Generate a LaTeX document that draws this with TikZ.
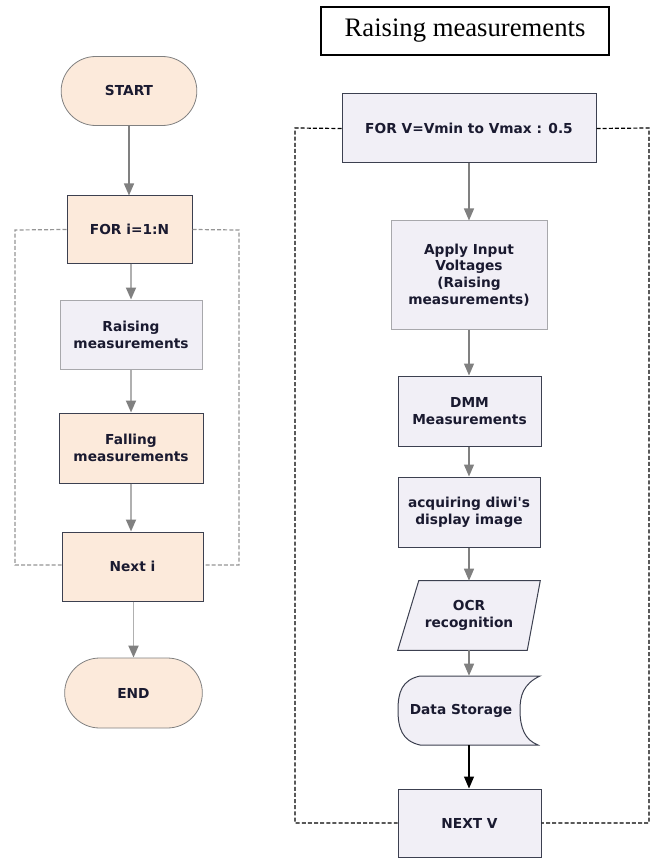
\documentclass[tikz,border=0pt]{standalone}
\usepackage{fontspec}
\newfontfamily\boxfont{DejaVu Sans}
\newfontfamily\titlefont{Liberation Serif}
\usetikzlibrary{arrows.meta,shapes.misc}

\definecolor{peach}{HTML}{FCEADB}
\definecolor{lavender}{HTML}{F1EFF6}
\definecolor{darkedge}{HTML}{3C4050}
\definecolor{lightedge}{HTML}{A8A8AC}
\definecolor{inkcol}{HTML}{1A1A30}
\definecolor{shaftgray}{HTML}{B0B0B0}
\definecolor{headgray}{HTML}{808080}
\definecolor{loopgray}{HTML}{959595}

\tikzset{
  label text/.style={font=\boxfont\bfseries\fontsize{10.3}{12.6}\selectfont,
    text=inkcol, align=center, inner sep=2pt},
  terminal/.style={label text, rounded rectangle, draw=headgray, line width=0.6pt, fill=peach},
  peachbox/.style={label text, rectangle, draw=darkedge, line width=0.75pt, fill=peach},
  lavbox/.style={label text, rectangle, draw=darkedge, line width=0.75pt, fill=lavender},
  lavboxlight/.style={label text, rectangle, draw=lightedge, line width=0.75pt, fill=lavender},
  ghost/.style={label text, rectangle, draw=none},
  flowarrow/.style={draw=shaftgray, line width=1.4pt,
    -{Triangle[width=7.5pt,length=9pt,color=headgray]}},
  thinarrow/.style={draw=headgray, line width=0.9pt,
    -{Triangle[width=7.5pt,length=9pt,color=headgray]}},
  blackarrow/.style={draw=black, line width=0.8pt,
    -{Triangle[width=7.5pt,length=9pt,color=black]}},
  grayloop/.style={draw=loopgray, line width=0.9pt, dash pattern=on 3pt off 1.6pt},
  blackloop/.style={draw=black, line width=0.9pt, dash pattern=on 3pt off 1.6pt},
}

\begin{document}
\begin{tikzpicture}[x=0.75pt, y=-0.75pt]
\useasboundingbox (0,0) rectangle (656,859);

% ---------- main loop over i ----------
\node[terminal, minimum width=105.75pt, minimum height=51.75pt] (start) at (129,91) {START};
\node[peachbox, minimum width=93.75pt, minimum height=50.25pt] (fori) at (129.5,229.5) {FOR i=1:N};
\node[lavboxlight, minimum width=106.5pt, minimum height=51.75pt] (rais) at (131,334.5) {Raising\\measurements};
\node[peachbox, minimum width=108pt, minimum height=52.5pt] (fall) at (131,448) {Falling\\measurements};
\node[peachbox, minimum width=105.75pt, minimum height=51.75pt] (nexti) at (132.5,566.5) {Next i};
\node[terminal, minimum width=107.25pt, minimum height=52.5pt] (endn) at (133.5,693) {END};

\draw[thinarrow, line width=1pt] (start.south) -- (start.south |- fori.north);
\draw[flowarrow] (fori.south -| rais.north) -- (rais.north);
\draw[flowarrow] (rais.south) -- (fall.north);
\draw[flowarrow] (fall.south) -- (fall.south |- nexti.north);
\draw[flowarrow] (nexti.south -| endn.north) -- (endn.north);

\coordinate (lt) at (15,230);
\coordinate (lb) at (15,565);
\coordinate (rt) at (239,230);
\coordinate (rb) at (239,565);
\draw[grayloop] (fori.west) -- (lt) -- (lb) -- (nexti.west |- lb);
\draw[grayloop] (fori.east) -- (rt) -- (rb) -- (nexti.east |- rb);

% ---------- raising measurements loop over V ----------
\node[draw=black, line width=0.9pt, minimum width=216pt, minimum height=36pt,
      font=\titlefont\fontsize{20}{23}\selectfont, text=black] (title) at (465,31) {Raising measurements};

\node[lavbox, minimum width=190.5pt, minimum height=51.75pt] (forv) at (469,128.5) {FOR V=Vmin to Vmax : 0.5};
\node[lavboxlight, minimum width=117pt, minimum height=81pt] (apply) at (469,275) {Apply Input\\Voltages\\(Raising\\measurements)};
\node[lavbox, minimum width=107.25pt, minimum height=52.5pt] (dmm) at (469.5,411) {DMM\\Measurements};
\node[lavbox, minimum width=106.5pt, minimum height=52.5pt] (acq) at (469,512) {acquiring diwi's\\display image};

% OCR step: parallelogram outline around an unframed node
\node[ghost, minimum width=106.5pt, minimum height=51.75pt] (ocr) at (469,615.5) {};
\filldraw[fill=lavender, draw=darkedge, line width=0.75pt]
  ([xshift=15.75pt]ocr.north west) -- (ocr.north east)
  -- ([xshift=-9.75pt]ocr.south east) -- (ocr.south west) -- cycle;
\node[label text] at (ocr) {OCR\\recognition};

% stored-data step: convex left side, concave right side
\node[ghost, minimum width=106.5pt, minimum height=51.75pt] (store) at (469,710.5) {};
\filldraw[fill=lavender, draw=darkedge, line width=0.75pt]
  (420,676) -- (540,676)
  .. controls (523,684) and (520,696) .. (520,710)
  .. controls (520,728) and (525,740) .. (538,745)
  -- (420,745)
  .. controls (402,741) and (398,728) .. (398,710)
  .. controls (398,692) and (402,680) .. (420,676) -- cycle;
\node[label text] at (461,711) {Data Storage};

\node[lavbox, minimum width=107.25pt, minimum height=51pt] (nextv) at (469.5,823) {NEXT V};

\draw[thinarrow] (forv.south) -- (forv.south |- apply.north);
\draw[thinarrow] (apply.south) -- (apply.south |- dmm.north);
\draw[thinarrow] (dmm.south -| acq.north) -- (acq.north);
\draw[thinarrow] (acq.south) -- (ocr.north);
\draw[thinarrow] (ocr.south) -- (store.north);
\draw[blackarrow] (store.south) -- (store.south |- nextv.north);

\coordinate (vlt) at (295,128);
\coordinate (vlb) at (295,823);
\coordinate (vrt) at (649,128);
\coordinate (vrb) at (649,823);
\draw[blackloop] (forv.west) -- (vlt) -- (vlb) -- (nextv.west);
\draw[blackloop] (forv.east) -- (vrt) -- (vrb) -- (nextv.east);
\end{tikzpicture}
\end{document}
